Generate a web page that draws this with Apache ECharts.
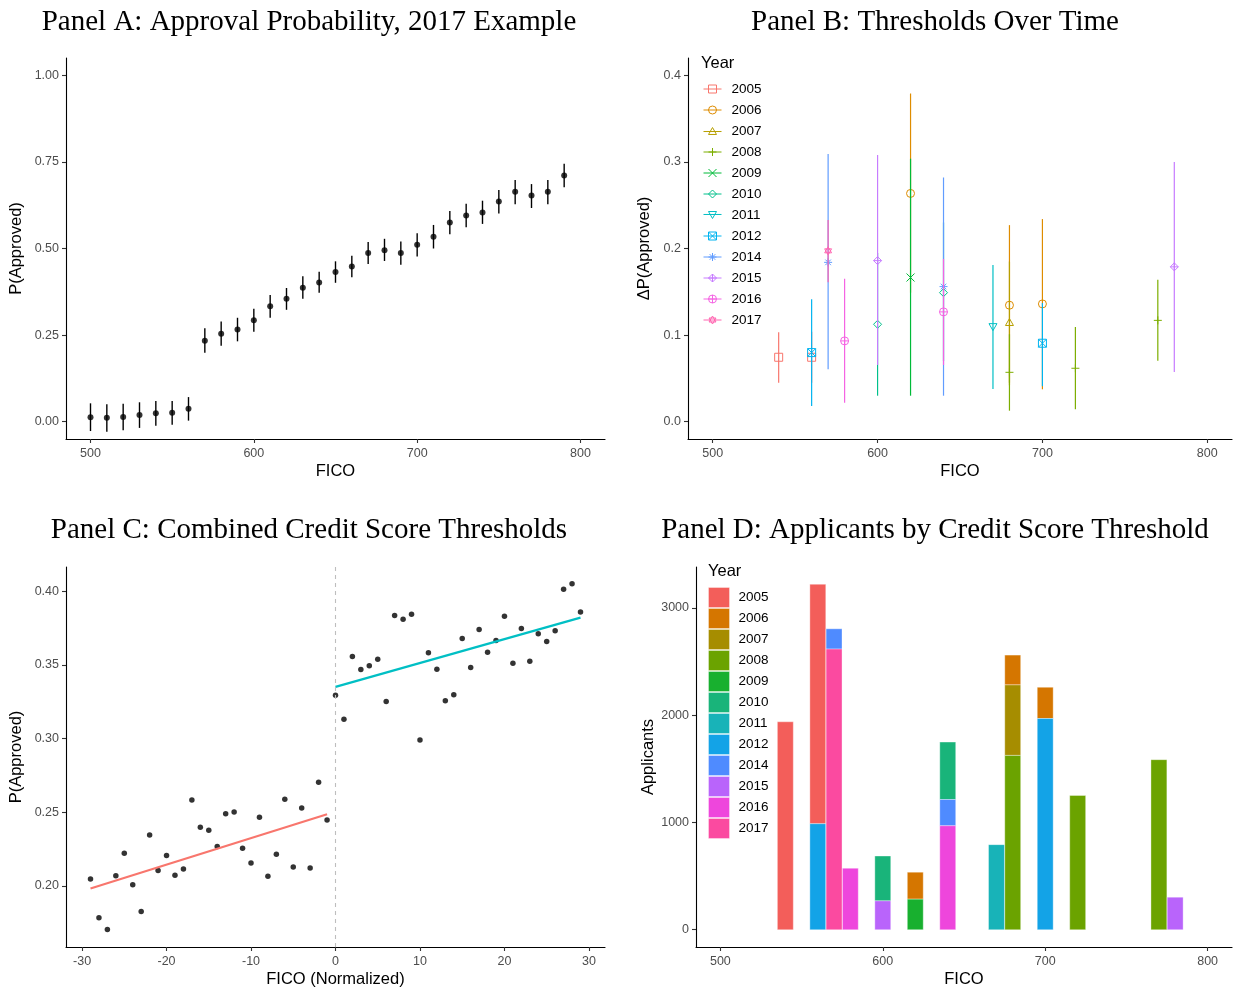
<!DOCTYPE html>
<html>
<head>
<meta charset="utf-8">
<script src="https://cdn.jsdelivr.net/npm/echarts@6/dist/echarts.min.js"></script>
<style>
  html, body { margin: 0; padding: 0; background: #ffffff; }
  #chart { width: 1233px; height: 989px; }
</style>
</head>
<body>
<div id="chart"></div>
<script>
// ---------- data ----------
const yearLabels = ['2005', '2006', '2007', '2008', '2009', '2010', '2011', '2012', '2014', '2015', '2016', '2017'];

// Panel A: approval probability by FICO bin (2017) with 95% intervals
const ficoA = [500, 510, 520, 530, 540, 550, 560, 570, 580, 590, 600, 610, 620, 630, 640, 650, 660, 670, 680, 690, 700, 710, 720, 730, 740, 750, 760, 770, 780, 790];
const probA = [0.013, 0.011, 0.0135, 0.019, 0.024, 0.026, 0.0375, 0.234, 0.254, 0.266, 0.293, 0.333, 0.355, 0.387, 0.402, 0.432, 0.448, 0.487, 0.495, 0.487, 0.511, 0.534, 0.575, 0.595, 0.604, 0.636, 0.664, 0.653, 0.664, 0.711];
const lowA = [-0.027, -0.029, -0.025, -0.018, -0.012, -0.009, 0.003, 0.199, 0.219, 0.232, 0.260, 0.300, 0.323, 0.355, 0.372, 0.401, 0.417, 0.455, 0.464, 0.453, 0.477, 0.500, 0.541, 0.561, 0.571, 0.601, 0.628, 0.617, 0.628, 0.677];
const highA = [0.053, 0.050, 0.052, 0.056, 0.060, 0.060, 0.071, 0.270, 0.289, 0.300, 0.326, 0.366, 0.386, 0.420, 0.433, 0.463, 0.479, 0.519, 0.528, 0.520, 0.544, 0.568, 0.608, 0.629, 0.638, 0.669, 0.698, 0.686, 0.698, 0.745];

// Panels B and D: detected thresholds (one row per year and cutoff)
const thrYear = ['2005', '2005', '2006', '2006', '2006', '2007', '2008', '2008', '2008', '2009', '2010', '2010', '2011', '2012', '2012', '2014', '2014', '2015', '2015', '2016', '2016', '2017'];
const thrFico = [540, 560, 620, 680, 700, 680, 680, 720, 770, 620, 600, 640, 670, 560, 700, 570, 640, 600, 780, 580, 640, 570];
const thrJump = [0.0744, 0.0744, 0.2636, 0.1345, 0.136, 0.1145, 0.057, 0.0617, 0.117, 0.1665, 0.1125, 0.149, 0.1098, 0.0798, 0.0906, 0.184, 0.156, 0.186, 0.1788, 0.0933, 0.1268, 0.1973];
const thrLow = [0.045, 0.045, 0.149, 0.042, 0.0374, 0.045, 0.0127, 0.0143, 0.0705, 0.030, 0.030, 0.070, 0.0378, 0.0181, 0.041, 0.0605, 0.030, 0.0655, 0.0574, 0.022, 0.0655, 0.161];
const thrHigh = [0.1033, 0.104, 0.379, 0.227, 0.234, 0.185, 0.101, 0.1094, 0.1638, 0.3037, 0.195, 0.230, 0.181, 0.1414, 0.137, 0.309, 0.282, 0.308, 0.300, 0.165, 0.188, 0.233];
const applicants = [1938, 2232, 251, 278, 291, 657, 1625, 1251, 1585, 285, 418, 535, 793, 988, 1969, 189, 245, 269, 303, 573, 969, 2616];

// Panel C: pooled approval probability around the cutoff
const ficoC = [-29, -28, -27, -26, -25, -24, -23, -22, -21, -20, -19, -18, -17, -16, -15, -14, -13, -12, -11, -10, -9, -8, -7, -6, -5, -4, -3, -2, -1,
               0, 1, 2, 3, 4, 5, 6, 7, 8, 9, 10, 11, 12, 13, 14, 15, 16, 17, 18, 19, 20, 21, 22, 23, 24, 25, 26, 27, 28, 29];
const probC = [0.2047, 0.1783, 0.1704, 0.2068, 0.2221, 0.2007, 0.1826, 0.2346, 0.2104, 0.2206, 0.2072, 0.2115, 0.2583, 0.2398, 0.2377, 0.2267, 0.2490, 0.2502, 0.2255, 0.2156, 0.2466, 0.2066, 0.2215, 0.2588, 0.2129, 0.2529, 0.2122, 0.2703, 0.2447,
               0.3295, 0.3132, 0.3557, 0.3469, 0.3494, 0.3539, 0.3252, 0.3835, 0.3810, 0.3844, 0.2990, 0.3582, 0.3471, 0.3257, 0.3297, 0.3679, 0.3482, 0.3740, 0.3586, 0.3666, 0.3831, 0.3512, 0.3747, 0.3525, 0.3711, 0.3659, 0.3733, 0.4014, 0.4052, 0.3860];
// linear fits on each side of the cutoff (end points)
const fitBelowX = [-29, -1];
const fitBelowY = [0.1982, 0.2486];
const fitAboveX = [0, 29];
const fitAboveY = [0.3351, 0.3821];

// tick values
const ticksFico = [500, 600, 700, 800];
const ticksA = [0, 0.25, 0.5, 0.75, 1];
const ticksB = [0, 0.1, 0.2, 0.3, 0.4];
const ticksC = [-30, -20, -10, 0, 10, 20, 30];
const ticksCy = [0.20, 0.25, 0.30, 0.35, 0.40];
const ticksD = [0, 1000, 2000, 3000];

// ---------- styling ----------
const SANS = '"Liberation Sans", Arial, Helvetica, sans-serif';
const SERIF = '"Liberation Serif", "Times New Roman", serif';
const colorsB = ['#F8766D', '#DE8C00', '#B79F00', '#7CAE00', '#00BA38', '#00C08B', '#00BFC4', '#00B4F0', '#619CFF', '#C77CFF', '#F564E3', '#FF64B0'];
const colorsD = ['#F35E5A', '#D57600', '#A68D00', '#6BA300', '#18B02F', '#19B47A', '#18B3B8', '#13A3E7', '#4F8BFF', '#B964FB', '#EE46DC', '#FB4AA0'];

// hollow marker outlines, one per year (square, circle, triangle, plus, cross, diamond,
// down triangle, boxed cross, asterisk, diamond plus, circle plus, two triangles)
const shapes = [
  (x, y, s) => `M${x},${y}L${x + s},${y}L${x + s},${y + s}L${x},${y + s}Z`,
  (x, y, s) => `M${x + s},${y + s / 2}A${s / 2},${s / 2} 0 1 1 ${x},${y + s / 2}A${s / 2},${s / 2} 0 1 1 ${x + s},${y + s / 2}Z`,
  (x, y, s) => `M${x + s / 2},${y}L${x + s},${y + s * 0.87}L${x},${y + s * 0.87}Z`,
  (x, y, s) => `M${x + s / 2},${y}L${x + s / 2},${y + s}M${x},${y + s / 2}L${x + s},${y + s / 2}`,
  (x, y, s) => `M${x},${y}L${x + s},${y + s}M${x + s},${y}L${x},${y + s}`,
  (x, y, s) => `M${x + s / 2},${y}L${x + s},${y + s / 2}L${x + s / 2},${y + s}L${x},${y + s / 2}Z`,
  (x, y, s) => `M${x},${y + s * 0.13}L${x + s},${y + s * 0.13}L${x + s / 2},${y + s}Z`,
  (x, y, s) => `M${x},${y}L${x + s},${y}L${x + s},${y + s}L${x},${y + s}ZM${x},${y}L${x + s},${y + s}M${x + s},${y}L${x},${y + s}`,
  (x, y, s) => `M${x + s / 2},${y}L${x + s / 2},${y + s}M${x},${y + s / 2}L${x + s},${y + s / 2}M${x + s * 0.15},${y + s * 0.15}L${x + s * 0.85},${y + s * 0.85}M${x + s * 0.85},${y + s * 0.15}L${x + s * 0.15},${y + s * 0.85}`,
  (x, y, s) => `M${x + s / 2},${y}L${x + s},${y + s / 2}L${x + s / 2},${y + s}L${x},${y + s / 2}ZM${x + s / 2},${y}L${x + s / 2},${y + s}M${x},${y + s / 2}L${x + s},${y + s / 2}`,
  (x, y, s) => `M${x + s},${y + s / 2}A${s / 2},${s / 2} 0 1 1 ${x},${y + s / 2}A${s / 2},${s / 2} 0 1 1 ${x + s},${y + s / 2}ZM${x + s / 2},${y}L${x + s / 2},${y + s}M${x},${y + s / 2}L${x + s},${y + s / 2}`,
  (x, y, s) => `M${x + s / 2},${y}L${x + s * 0.93},${y + s * 0.75}L${x + s * 0.07},${y + s * 0.75}ZM${x + s / 2},${y + s}L${x + s * 0.07},${y + s * 0.25}L${x + s * 0.93},${y + s * 0.25}Z`
];

const axisLineStyle = { show: true, onZero: false, lineStyle: { color: '#000', width: 1.1 } };
const tickStyle = (vals) => ({ show: true, length: 4, customValues: vals, lineStyle: { color: '#333', width: 1.1 } });
const labelStyle = (vals, fmt, margin) => ({
  customValues: vals, margin: margin, color: '#4D4D4D', fontSize: 12.5, fontFamily: SANS,
  formatter: fmt || undefined
});
const nameStyle = { color: '#000', fontSize: 16.5, fontFamily: SANS };

function xAxisFor(gridIndex, min, max, ticks, name, fmt) {
  return {
    type: 'value', gridIndex, min, max, name, nameLocation: 'middle', nameGap: 24,
    nameTextStyle: nameStyle, axisLine: axisLineStyle, axisTick: tickStyle(ticks),
    axisLabel: labelStyle(ticks, fmt, 8), splitLine: { show: false }
  };
}
function yAxisFor(gridIndex, min, max, ticks, name, fmt, gap) {
  return {
    type: 'value', gridIndex, min, max, name, nameLocation: 'middle', nameGap: gap,
    nameTextStyle: nameStyle, axisLine: axisLineStyle, axisTick: tickStyle(ticks),
    axisLabel: labelStyle(ticks, fmt, 7), splitLine: { show: false }
  };
}

// ---------- derived series data ----------
const yIdx = (y) => yearLabels.indexOf(y);
// stacking base: later years sit at the bottom of each bar
const baseD = thrFico.map((f, i) => {
  let b = 0;
  thrFico.forEach((f2, j) => {
    if (f2 === f && yIdx(thrYear[j]) > yIdx(thrYear[i])) b += applicants[j];
  });
  return b;
});

const seriesList = [];

// Panel A: interval lines and points
seriesList.push({
  type: 'custom', xAxisIndex: 0, yAxisIndex: 0, silent: true,
  data: ficoA.map((f, i) => [f, lowA[i], highA[i]]),
  encode: { x: 0, y: [1, 2] },
  renderItem: (params, api) => {
    const a = api.coord([api.value(0), api.value(1)]);
    const b = api.coord([api.value(0), api.value(2)]);
    return { type: 'line', shape: { x1: a[0], y1: a[1], x2: b[0], y2: b[1] }, style: { stroke: '#000', lineWidth: 1.4 } };
  }
});
seriesList.push({
  type: 'scatter', xAxisIndex: 0, yAxisIndex: 0, silent: true,
  data: ficoA.map((f, i) => [f, probA[i]]),
  symbol: 'circle', symbolSize: 6, itemStyle: { color: '#000' }
});

// Panel B: one series per year with interval and marker
yearLabels.forEach((yr, k) => {
  const rows = [];
  thrYear.forEach((y, i) => { if (y === yr) rows.push([thrFico[i], thrJump[i], thrLow[i], thrHigh[i]]); });
  const c = colorsB[k];
  seriesList.push({
    name: yr, type: 'custom', xAxisIndex: 1, yAxisIndex: 1, silent: true,
    data: rows, encode: { x: 0, y: [1, 2, 3] },
    itemStyle: { color: c },
    renderItem: (params, api) => {
      const x = api.value(0);
      const p = api.coord([x, api.value(1)]);
      const lo = api.coord([x, api.value(2)]);
      const hi = api.coord([x, api.value(3)]);
      const s = 8;
      return {
        type: 'group', children: [
          { type: 'line', shape: { x1: lo[0], y1: lo[1], x2: hi[0], y2: hi[1] }, style: { stroke: c, lineWidth: 1.2 } },
          { type: 'path', shape: { pathData: shapes[k](p[0] - s / 2, p[1] - s / 2, s) }, style: { fill: 'none', stroke: c, lineWidth: 1 } }
        ]
      };
    }
  });
});

// Panel C: points, cutoff line and side fits
seriesList.push({
  type: 'scatter', xAxisIndex: 2, yAxisIndex: 2, silent: true,
  data: ficoC.map((f, i) => [f, probC[i]]),
  symbol: 'circle', symbolSize: 5.5, itemStyle: { color: '#000' },
  markLine: {
    silent: true, symbol: 'none', label: { show: false },
    lineStyle: { color: '#BEBEBE', type: [4, 4], width: 1.1 },
    data: [{ xAxis: 0 }], animation: false
  }
});
seriesList.push({
  type: 'line', xAxisIndex: 2, yAxisIndex: 2, silent: true, showSymbol: false,
  data: fitBelowX.map((x, i) => [x, fitBelowY[i]]),
  lineStyle: { color: '#F8766D', width: 2.2 }
});
seriesList.push({
  type: 'line', xAxisIndex: 2, yAxisIndex: 2, silent: true, showSymbol: false,
  data: fitAboveX.map((x, i) => [x, fitAboveY[i]]),
  lineStyle: { color: '#00BFC4', width: 2.2 }
});

// Panel D: stacked applicant counts
const barWidthD = 9.8;
yearLabels.forEach((yr, k) => {
  const rows = [];
  thrYear.forEach((y, i) => { if (y === yr) rows.push([thrFico[i], baseD[i], baseD[i] + applicants[i]]); });
  seriesList.push({
    name: yr, type: 'custom', xAxisIndex: 3, yAxisIndex: 3, silent: true,
    data: rows, encode: { x: 0, y: [1, 2] },
    itemStyle: { color: colorsD[k] },
    renderItem: (params, api) => {
      const x = api.value(0);
      const p0 = api.coord([x - barWidthD / 2, api.value(1)]);
      const p1 = api.coord([x + barWidthD / 2, api.value(2)]);
      return {
        type: 'rect',
        shape: { x: p0[0], y: p1[1], width: p1[0] - p0[0], height: p0[1] - p1[1] },
        style: { fill: colorsD[k], stroke: 'rgba(255,255,255,0.35)', lineWidth: 1 }
      };
    }
  });
});

// ---------- chart ----------
const titleStyle = { fontFamily: SERIF, fontSize: 29, fontWeight: 'normal', color: '#000' };
const yearTitleStyle = { fontFamily: SANS, fontSize: 16.5, fontWeight: 'normal', color: '#000' };

const option = {
  animation: false,
  backgroundColor: '#ffffff',
  title: [
    { text: 'Panel A: Approval Probability, 2017 Example', left: 309, top: 8, textAlign: 'center', padding: 0, textStyle: titleStyle },
    { text: 'Panel B: Thresholds Over Time', left: 935, top: 8, textAlign: 'center', padding: 0, textStyle: titleStyle },
    { text: 'Panel C: Combined Credit Score Thresholds', left: 309, top: 516, textAlign: 'center', padding: 0, textStyle: titleStyle },
    { text: 'Panel D: Applicants by Credit Score Threshold', left: 935, top: 516, textAlign: 'center', padding: 0, textStyle: titleStyle },
    { text: 'Year', left: 701, top: 55, padding: 0, textStyle: yearTitleStyle },
    { text: 'Year', left: 708, top: 563, padding: 0, textStyle: yearTitleStyle }
  ],
  legend: [
    {
      orient: 'vertical', left: 703, top: 81, padding: 0, itemGap: 5,
      itemWidth: 18, itemHeight: 8, selectedMode: false,
      textStyle: { fontFamily: SANS, fontSize: 13.5, lineHeight: 16, color: '#000', padding: [0, 0, 0, 5] },
      data: yearLabels.map((y, k) => ({
        name: y,
        icon: 'path://M0,5L18,5' + shapes[k](5, 1, 8),
        itemStyle: { color: 'transparent', borderColor: colorsB[k], borderWidth: 1 }
      }))
    },
    {
      orient: 'vertical', left: 708, top: 587, padding: 0, itemGap: 0,
      itemWidth: 21, itemHeight: 20, selectedMode: false,
      textStyle: { fontFamily: SANS, fontSize: 13.5, lineHeight: 20, color: '#000', padding: [0, 0, 0, 4] },
      data: yearLabels.map((y, k) => ({
        name: y, icon: 'rect',
        itemStyle: { color: colorsD[k], borderColor: 'rgba(255,255,255,0.35)', borderWidth: 1 }
      }))
    }
  ],
  grid: [
    { left: 66, top: 58, width: 539, height: 381 },
    { left: 688, top: 58, width: 544, height: 381 },
    { left: 66, top: 567, width: 539, height: 380 },
    { left: 696, top: 567, width: 536, height: 381 }
  ],
  xAxis: [
    xAxisFor(0, 485, 815, ticksFico, 'FICO'),
    xAxisFor(1, 485, 815, ticksFico, 'FICO'),
    xAxisFor(2, -31.9, 31.9, ticksC, 'FICO (Normalized)'),
    xAxisFor(3, 485, 815, ticksFico, 'FICO')
  ],
  yAxis: [
    yAxisFor(0, -0.05, 1.05, ticksA, 'P(Approved)', (v) => v.toFixed(2), 41),
    yAxisFor(1, -0.02, 0.42, ticksB, 'ΔP(Approved)', (v) => v.toFixed(1), 35),
    yAxisFor(2, 0.1585, 0.4165, ticksCy, 'P(Approved)', (v) => v.toFixed(2), 41),
    yAxisFor(3, -161, 3381, ticksD, 'Applicants', (v) => String(v), 39)
  ],
  series: seriesList
};

const chart = echarts.init(document.getElementById('chart'), null, { renderer: 'canvas' });
chart.setOption(option);
</script>
</body>
</html>
